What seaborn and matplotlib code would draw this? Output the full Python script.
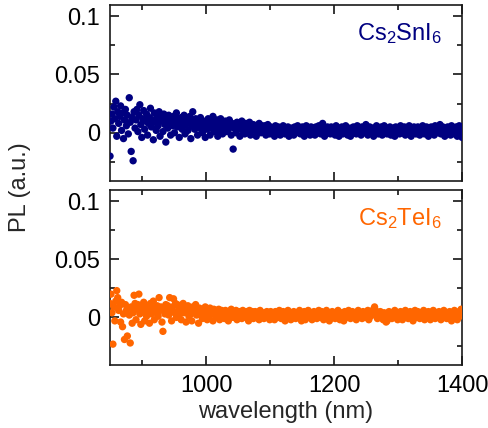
import numpy as np
import pandas as pd
import matplotlib
matplotlib.use("Agg")
import matplotlib.pyplot as plt
from matplotlib.ticker import FixedLocator
import seaborn as sns

# ---- data (about 1.5 nm step from 850 to 1400 nm) ----
wl_start, wl_stop = 850, 1400

pl_cs2sni6 = [
    -0.020, 0.010, 0.016, 0.004, 0.022, 0.012, 0.027, -0.003, 0.018, 0.008,
    0.014, 0.023, 0.002, 0.017, -0.005, 0.011, 0.020, 0.006, 0.015, -0.001,
    0.030, 0.009, -0.016, 0.013, -0.024, 0.018, 0.004, 0.011, 0.020, 0.001,
    0.015, 0.024, 0.007, -0.004, 0.012, 0.019, 0.003, 0.010, 0.016, -0.002,
    0.008, 0.013, 0.021, 0.005, 0.011, -0.006, 0.017, 0.009, 0.002, 0.014,
    0.006, 0.018, -0.003, 0.010, 0.013, 0.001, 0.016, 0.007, -0.008, 0.012,
    0.004, 0.015, 0.009, -0.002, 0.011, 0.006, 0.014, 0.000, 0.010, 0.017,
    0.005, 0.012, -0.004, 0.008, 0.013, 0.003, 0.010, 0.015, -0.001, 0.007,
    0.011, 0.002, 0.009, 0.014, -0.005, 0.006, 0.018, 0.010, 0.003, 0.012,
    0.007, -0.002, 0.011, 0.004, 0.013, 0.008, 0.000, 0.010, 0.005, -0.004,
    0.009, 0.003, 0.012, 0.006, -0.002, 0.010, 0.004, 0.014, 0.001, 0.007,
    0.005, 0.011, -0.003, 0.008, 0.002, 0.012, 0.006, -0.001, 0.009, 0.004,
    0.010, 0.001, 0.007, 0.003, 0.011, 0.005, -0.002, 0.008, -0.014, 0.004,
    0.006, 0.000, 0.009, 0.003, 0.007, -0.003, 0.005, 0.010, 0.002, 0.006,
    -0.001, 0.008, 0.004, 0.001, 0.006, 0.009, -0.002, 0.005, 0.003, 0.007,
    0.002, 0.005, -0.003, 0.006, 0.001, 0.008, 0.003, 0.000, 0.006, 0.004,
    0.001, 0.006, -0.002, 0.004, 0.007, 0.002, -0.001, 0.005, 0.003, 0.000,
    0.004, -0.003, 0.006, 0.002, 0.000, 0.005, 0.003, -0.002, 0.004, 0.001,
    0.006, 0.002, -0.001, 0.004, 0.001, 0.005, -0.003, 0.003, 0.000, 0.004,
    0.002, -0.002, 0.005, 0.001, 0.003, 0.006, 0.000, 0.004, -0.001, 0.002,
    0.005, 0.001, -0.003, 0.003, 0.006, 0.000, 0.004, 0.002, -0.002, 0.005,
    0.001, 0.004, 0.002, -0.002, 0.005, 0.003, 0.000, 0.006, 0.001, -0.001,
    0.003, 0.008, 0.002, -0.003, 0.004, 0.001, 0.005, 0.000, 0.003, -0.001,
    0.005, 0.002, 0.000, 0.004, -0.002, 0.006, 0.001, 0.003, -0.003, 0.004,
    0.002, 0.005, -0.001, 0.003, 0.000, 0.006, 0.002, -0.002, 0.004, 0.001,
    -0.003, 0.004, 0.002, 0.005, 0.000, 0.003, -0.001, 0.006, 0.002, 0.004,
    0.001, -0.002, 0.005, 0.003, 0.000, 0.004, 0.007, 0.001, -0.002, 0.003,
    0.005, 0.002, 0.000, 0.004, -0.003, 0.003, 0.001, 0.006, 0.002, -0.001,
    0.004, 0.001, 0.005, -0.002, 0.002, 0.006, 0.000, 0.003, -0.001, 0.004,
    0.002, 0.005, -0.002, 0.003, 0.001, 0.004, -0.003, 0.005, 0.002, 0.000,
    0.004, -0.001, 0.006, 0.002, 0.000, 0.003, 0.005, -0.002, 0.004, 0.001,
    0.003, 0.006, 0.000, -0.003, 0.004, 0.002, 0.005, 0.001, -0.001, 0.003,
    0.005, 0.002, -0.002, 0.004, 0.000, 0.006, 0.003, -0.001, 0.002, 0.005,
    0.001, -0.003, 0.004, 0.002, 0.005, 0.000, 0.003, -0.002, 0.006, 0.002,
    0.004, 0.000, 0.003, 0.007, -0.001, 0.002, 0.005, 0.001, -0.003, 0.004,
    0.002, 0.005, 0.000, 0.003, -0.002, 0.006, 0.001, 0.004, -0.001, 0.003,
    0.005, -0.003, 0.002, 0.006, 0.000, 0.004, -0.004,
]

pl_cs2tei6 = [
    0.012, 0.020, 0.004, -0.023, 0.009, -0.003, 0.014, 0.023, 0.017, 0.006,
    0.010, -0.004, 0.013, -0.008, 0.003, -0.019, 0.011, 0.006, -0.016, 0.008,
    0.002, -0.022, 0.009, -0.005, 0.004, 0.019, 0.012, -0.002, 0.007, 0.011,
    0.020, 0.003, -0.006, 0.009, 0.005, 0.013, -0.003, 0.008, 0.001, 0.010,
    0.006, -0.005, 0.012, 0.003, 0.008, 0.014, -0.002, 0.007, 0.004, 0.010,
    0.001, 0.017, 0.006, 0.009, -0.004, -0.012, 0.008, 0.003, 0.011, 0.005,
    0.010, 0.002, 0.017, 0.006, -0.003, 0.009, 0.016, 0.004, 0.012, 0.000,
    0.011, 0.006, 0.002, 0.009, -0.002, 0.007, 0.012, 0.004, 0.008, -0.004,
    0.005, 0.010, 0.001, 0.007, 0.003, -0.003, 0.009, 0.004, 0.006, 0.011,
    0.002, 0.006, -0.005, 0.008, 0.003, 0.005, -0.001, 0.007, 0.002, 0.009,
    0.004, -0.002, 0.006, 0.001, 0.008, 0.003, 0.005, -0.003, 0.007, 0.002,
    0.005, 0.000, 0.004, 0.007, -0.002, 0.003, 0.006, 0.001, 0.004, -0.001,
    0.006, 0.002, 0.004, -0.003, 0.005, 0.001, 0.007, 0.003, 0.000, 0.005,
    0.002, 0.006, -0.002, 0.004, 0.001, 0.005, 0.003, -0.001, 0.006, 0.002,
    0.004, 0.000, 0.005, 0.002, -0.003, 0.006, 0.003, 0.001, 0.005, -0.001,
    0.003, 0.005, 0.000, 0.004, 0.002, -0.002, 0.006, 0.001, 0.004, 0.002,
    -0.001, 0.004, 0.002, 0.005, 0.000, 0.003, -0.002, 0.005, 0.001, 0.004,
    0.002, -0.002, 0.005, 0.001, 0.004, 0.000, 0.006, 0.002, -0.001, 0.003,
    0.005, 0.001, -0.003, 0.004, 0.002, 0.006, 0.000, 0.003, -0.002, 0.004,
    0.001, 0.005, 0.002, -0.001, 0.004, 0.000, 0.003, 0.006, 0.001, -0.003,
    0.004, 0.002, 0.005, -0.002, 0.003, 0.001, 0.006, 0.000, 0.004, 0.002,
    -0.002, 0.003, 0.005, 0.001, 0.004, -0.001, 0.002, 0.006, 0.000, 0.003,
    0.005, 0.001, -0.002, 0.004, 0.002, 0.006, 0.000, 0.003, -0.003, 0.004,
    0.002, 0.005, 0.000, 0.003, -0.001, 0.004, 0.002, 0.006, 0.001, -0.002,
    0.004, 0.001, 0.003, -0.003, 0.005, 0.002, 0.000, 0.004, 0.006, 0.001,
    -0.001, 0.003, 0.005, 0.002, 0.000, 0.004, -0.002, 0.003, 0.006, 0.001,
    0.004, 0.002, -0.001, 0.005, 0.003, 0.000, 0.004, 0.002, 0.006, -0.002,
    0.003, 0.001, 0.005, 0.004, 0.007, 0.009, 0.006, 0.002, -0.001, 0.004,
    0.002, 0.005, 0.000, 0.003, -0.002, 0.004, 0.001, -0.004, -0.003, 0.002,
    0.005, 0.001, 0.003, -0.001, 0.004, 0.002, 0.006, 0.000, 0.003, -0.002,
    0.004, 0.002, 0.005, 0.000, -0.002, 0.003, 0.001, 0.006, 0.002, 0.004,
    -0.001, 0.003, 0.005, 0.001, 0.004, -0.003, 0.002, 0.006, 0.000, 0.003,
    0.005, 0.002, -0.001, 0.004, 0.001, 0.003, 0.006, -0.002, 0.004, 0.002,
    0.000, 0.005, 0.003, -0.002, 0.004, 0.001, 0.006, 0.002, -0.001, 0.003,
    0.004, 0.001, 0.005, 0.002, -0.002, 0.003, 0.000, 0.006, 0.002, 0.004,
    -0.001, 0.003, 0.001, 0.005, 0.002, -0.003, 0.004, 0.001, 0.006, 0.002,
    0.004, -0.002, 0.003, 0.005, 0.001, 0.007, 0.002,
]

sample_labels = [r"Cs$_2$SnI$_6$", r"Cs$_2$TeI$_6$"]
sample_colors = ["#000080", "#FF6600"]
x_ticks = [1000, 1200, 1400]
y_ticks = [0, 0.05, 0.1]
y_ticklabels = ["0", "0.05", "0.1"]

# ---- style ----
sns.set_style("ticks")
plt.rcParams["font.family"] = ["Liberation Sans", "DejaVu Sans"]
plt.rcParams["mathtext.fontset"] = "custom"
plt.rcParams["mathtext.rm"] = "Liberation Sans"
plt.rcParams["mathtext.it"] = "Liberation Sans:italic"
plt.rcParams["mathtext.bf"] = "Liberation Sans:bold"

FS = 17
fig = plt.figure(figsize=(4.89, 4.28), dpi=100)
ax_top = fig.add_axes([0.225, 0.578, 0.720, 0.4105])
ax_bot = fig.add_axes([0.225, 0.147, 0.720, 0.409])

for ax, vals, lab, col in zip([ax_top, ax_bot], [pl_cs2sni6, pl_cs2tei6],
                              sample_labels, sample_colors):
    wl = np.linspace(wl_start, wl_stop, len(vals))
    df = pd.DataFrame({"wavelength": wl, "PL": vals})
    sns.scatterplot(data=df, x="wavelength", y="PL", ax=ax, color=col,
                    s=28, linewidth=0, edgecolor="none", legend=False, zorder=3)
    ax.set_xlim(850, 1400)
    ax.set_ylim(-0.041, 0.1095)
    ax.xaxis.set_major_locator(FixedLocator(x_ticks))
    ax.xaxis.set_minor_locator(FixedLocator([900, 1100, 1300]))
    ax.yaxis.set_major_locator(FixedLocator(y_ticks))
    ax.yaxis.set_minor_locator(FixedLocator([-0.025, 0.025, 0.075]))
    ax.set_yticklabels(y_ticklabels)
    ax.tick_params(axis="both", which="both", direction="in",
                   top=True, right=True, colors="black", labelsize=FS,
                   width=1.1)
    ax.tick_params(axis="both", which="major", length=6.5, pad=7)
    ax.tick_params(axis="both", which="minor", length=3.6)
    for sp in ax.spines.values():
        sp.set_visible(True)
        sp.set_linewidth(1.2)
        sp.set_color("#1a1a1a")
    ax.set_xlabel("")
    ax.set_ylabel("")
    ax.text(0.943, 0.80, lab, transform=ax.transAxes, ha="right",
            va="baseline", fontsize=FS, color=col)

ax_top.tick_params(axis="x", labelbottom=False)
ax_bot.set_xlabel("wavelength (nm)", fontsize=FS, labelpad=3)
fig.text(20 / 489, 1 - 187 / 428, "PL (a.u.)", rotation=90, ha="center",
         va="center", fontsize=FS)

fig.savefig("out.png", dpi=100)
